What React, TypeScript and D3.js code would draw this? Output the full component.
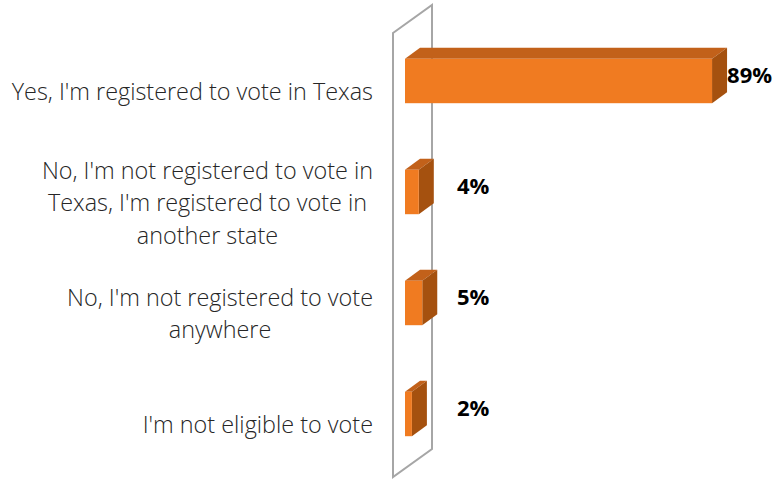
import React from "react";
import * as d3 from "d3";

const categories: string[][] = [
  ["Yes, I'm registered to vote in Texas"],
  ["No, I'm not registered to vote in", "Texas, I'm registered to vote in", "another state"],
  ["No, I'm not registered to vote", "anywhere"],
  ["I'm not eligible to vote"],
];
const values: number[] = [89, 4, 5, 2];
const valueLabels: string[] = ["89%", "4%", "5%", "2%"];

const W = 777;
const H = 479;
const FRONT = "#F07B21";
const TOP = "#C2611A";
const SIDE = "#A5510F";
const LABEL_FONT_SIZE = 23.4;
const LABEL_FONT = `300 ${LABEL_FONT_SIZE}px 'Open Sans', sans-serif`;

function measure(text: string): number {
  if (typeof document === "undefined") return text.length * 10;
  const c = document.createElement("canvas");
  const ctx = c.getContext("2d");
  if (!ctx) return text.length * 10;
  ctx.font = LABEL_FONT;
  return ctx.measureText(text).width;
}

export default function App() {
  const x = d3.scaleLinear().domain([0, 100]).range([405, 750]);
  const y = d3
    .scaleBand<number>()
    .domain(values.map((_, i) => i))
    .range([25.5, 469.5])
    .paddingInner(0.6)
    .paddingOuter(0.3);
  const dx = 15;
  const dy = -11;
  const x0 = x(0);
  const wallL = x0 - 12;
  const wallR = x0 + 27;
  const wallTop = 33;
  const wallBot = 477;
  const wallDy = -28;
  const lineH = 32.5;
  const labelRight = 373;

  return (
    <svg
      width={W}
      height={H}
      style={{ position: "absolute", left: 0, top: 0, display: "block", background: "#fff" }}
    >
      <polygon
        points={[
          [wallL, wallTop],
          [wallR, wallTop + wallDy],
          [wallR, wallBot + wallDy],
          [wallL, wallBot],
        ]
          .map((p) => p.join(","))
          .join(" ")}
        fill="none"
        stroke="#A6A6A6"
        strokeWidth={2}
      />
      {values.map((v, i) => {
        const yy = y(i)!;
        const h = y.bandwidth();
        const x1 = x(v);
        const cy = yy + h / 2;
        const lines = categories[i];
        const labelCy = cy + 11;
        const textX = Math.max(x1 + dx, wallR + 25);
        const blockW = Math.max(...lines.map(measure));
        const cx = labelRight - blockW / 2;
        return (
          <g key={i}>
            <polygon
              points={`${x0},${yy} ${x0 + dx},${yy + dy} ${x1 + dx},${yy + dy} ${x1},${yy}`}
              fill={TOP}
            />
            <polygon
              points={`${x1},${yy} ${x1 + dx},${yy + dy} ${x1 + dx},${yy + h + dy} ${x1},${yy + h}`}
              fill={SIDE}
            />
            <rect x={x0} y={yy} width={x1 - x0} height={h} fill={FRONT} />
            <text
              x={textX}
              y={cy + dy / 2}
              dy="0.35em"
              fontFamily="'Open Sans', sans-serif"
              fontWeight={700}
              fontSize={22}
              fill="#000"
            >
              {valueLabels[i]}
            </text>
            {lines.map((ln, j) => (
              <text
                key={j}
                x={lines.length > 1 ? cx : labelRight}
                y={labelCy + (j - (lines.length - 1) / 2) * lineH}
                dy="0.35em"
                textAnchor={lines.length > 1 ? "middle" : "end"}
                fontFamily="'Open Sans', sans-serif"
                fontWeight={300}
                fontSize={LABEL_FONT_SIZE}
                fill="#262626"
              >
                {ln}
              </text>
            ))}
          </g>
        );
      })}
    </svg>
  );
}
